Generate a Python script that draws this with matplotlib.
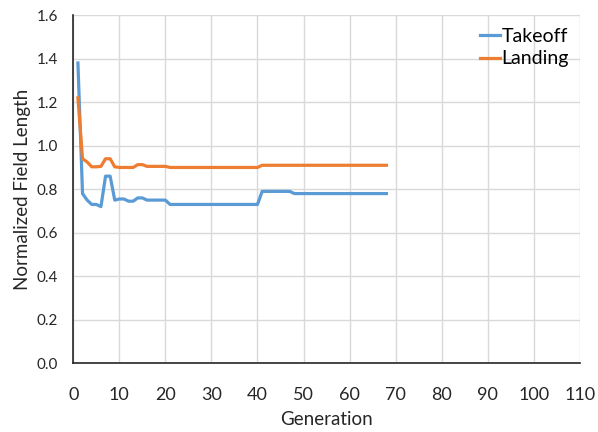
import matplotlib.pyplot as plt
from matplotlib.ticker import FormatStrFormatter

plt.rcParams['font.family'] = ['Lato', 'DejaVu Sans']

# Données
generation = list(range(1, 69))
takeoff = ([1.38, 0.78, 0.75, 0.73, 0.73, 0.72, 0.86, 0.86, 0.75, 0.755,
            0.755, 0.745, 0.745, 0.76, 0.76, 0.75, 0.75, 0.75, 0.75, 0.75]
           + [0.73] * 20 + [0.79] * 7 + [0.78] * 21)
landing = ([1.22, 0.94, 0.925, 0.903, 0.903, 0.905, 0.94, 0.94, 0.903, 0.9,
            0.9, 0.9, 0.9, 0.913, 0.913, 0.905, 0.905, 0.905, 0.905, 0.905]
           + [0.9] * 20 + [0.91] * 28)

fig = plt.figure(figsize=(5.98, 4.32), dpi=100)
ax = fig.add_axes([0.1226, 0.159, 0.847, 0.806])

ax.plot(generation, takeoff, color='#5B9BD5', lw=2.3, label='Takeoff')
ax.plot(generation, landing, color='#ED7D31', lw=2.3, label='Landing')

ax.set_xlim(0, 110)
ax.set_ylim(0, 1.6)
ax.set_xticks(range(0, 111, 10))
ax.set_yticks([i * 0.2 for i in range(9)])
ax.yaxis.set_major_formatter(FormatStrFormatter('%.1f'))
ax.tick_params(length=0, colors='#262626')
ax.tick_params(axis='x', pad=17, labelsize=13)
ax.tick_params(axis='y', pad=11, labelsize=11)

ax.grid(True, color='#d9d9d9', lw=1)
ax.set_axisbelow(True)
for s in ['top', 'right']:
    ax.spines[s].set_visible(False)
for s in ['left', 'bottom']:
    ax.spines[s].set_color('#262626')
    ax.spines[s].set_linewidth(1.2)

ax.set_xlabel('Generation', fontsize=13.5, color='#262626', labelpad=6)
ax.set_ylabel('Normalized Field Length', fontsize=13.5, color='#262626', labelpad=4)

leg = ax.legend(loc='upper left', bbox_to_anchor=(0.803, 0.936),
                bbox_transform=fig.transFigure, frameon=False,
                borderaxespad=0, borderpad=0,
                fontsize=14, handlelength=1.0, handletextpad=0.1,
                labelspacing=0.3)

fig.savefig('out.png', dpi=100)
